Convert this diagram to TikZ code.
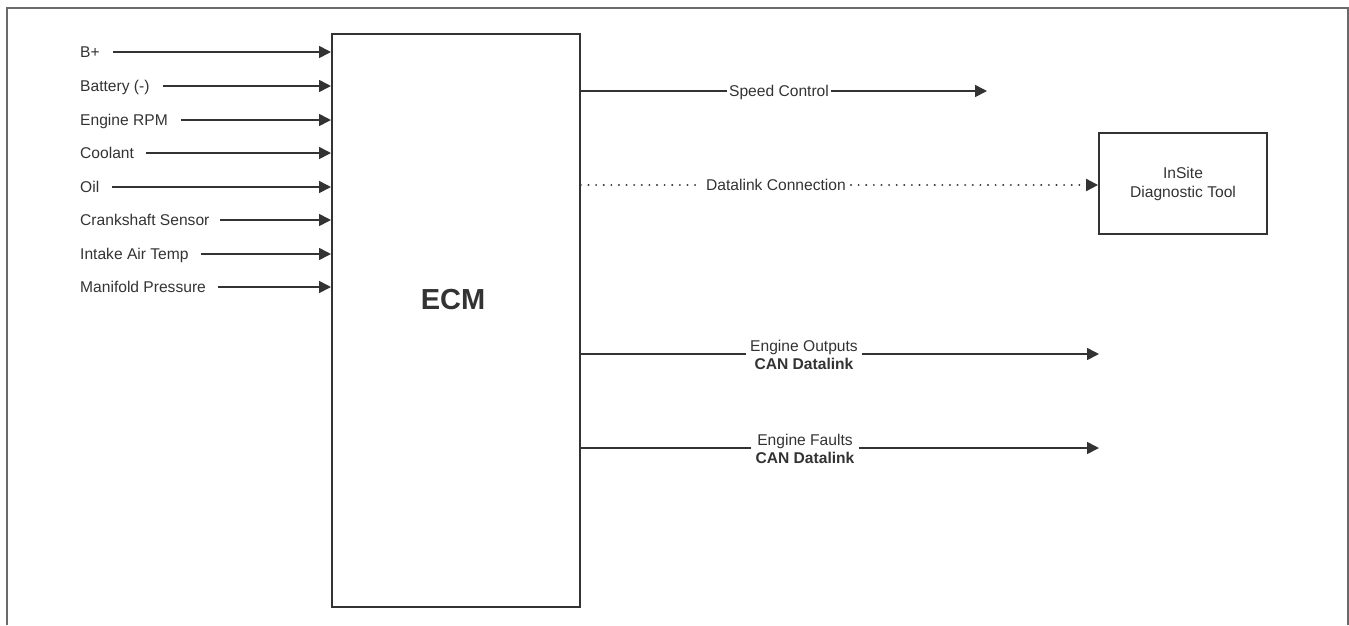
\documentclass[tikz,border=0pt]{standalone}
\usepackage{fontspec}
\setmainfont{Liberation Sans}
\usepackage{tikz}
\usetikzlibrary{arrows.meta}

\definecolor{ink}{HTML}{333333}
\definecolor{framegray}{HTML}{6A6A6A}

\begin{document}
\begin{tikzpicture}[x=1pt, y=-1pt,
    lbl/.style={font=\fontsize{15.6}{19}\selectfont, text=ink, inner sep=0pt,
                text height=11pt, text depth=0pt, anchor=west},
    twolbl/.style={font=\fontsize{15.6}{18.5}\selectfont, text=ink, inner ysep=0pt,
                   inner xsep=4pt, align=center},
    box/.style={draw=ink, line width=1.9pt, inner sep=0pt},
    wire/.style={draw=ink, line width=1.6pt},
    sig/.style={wire, -{Triangle[length=12pt,width=12pt]}},
    dotwire/.style={sig, line width=2.2pt, line cap=round, dash pattern=on 0.01pt off 7.6pt}
  ]
    \useasboundingbox (0,0) rectangle (1349,625);

    % outer frame, open at the bottom
    \draw[framegray, line width=1.5pt] (7,625) -- (7,8) -- (1348,8) -- (1348,625);

    % ECM box
    \node[box, anchor=north west, minimum width=248pt, minimum height=573pt] (ecm) at (331,33) {};
    \node[font=\fontsize{29}{32}\selectfont\bfseries, text=ink] (ecmtxt) at (453,300) {ECM};

    % inputs
    \node[lbl] (bplus) at (80,52) {B+};
    \node[lbl] (batt) at (80,86) {Battery (-)};
    \node[lbl] (rpm) at (80,120) {Engine RPM};
    \node[lbl] (cool) at (80,153) {Coolant};
    \node[lbl] (oil) at (80,187) {Oil};
    \node[lbl] (crank) at (80,220) {Crankshaft Sensor};
    \node[lbl] (iat) at (80,254) {Intake Air Temp};
    \node[lbl] (manp) at (80,287) {Manifold Pressure};

    \draw[sig] ([xshift=13pt]bplus.east) -- (bplus -| ecm.west);
    \draw[sig] ([xshift=13pt]batt.east) -- (batt -| ecm.west);
    \draw[sig] ([xshift=13pt]rpm.east) -- (rpm -| ecm.west);
    \draw[sig] ([xshift=12pt]cool.east) -- (cool -| ecm.west);
    \draw[sig] ([xshift=13pt]oil.east) -- (oil -| ecm.west);
    \draw[sig] ([xshift=10pt]crank.east) -- (crank -| ecm.west);
    \draw[sig] ([xshift=12pt]iat.east) -- (iat -| ecm.west);
    \draw[sig] ([xshift=12pt]manp.east) -- (manp -| ecm.west);

    % diagnostic tool
    \node[box, minimum width=168pt, minimum height=101pt, align=center,
          font=\fontsize{15.6}{19}\selectfont, text=ink] (insite) at (1183,183.5)
          {InSite\\Diagnostic Tool};

    % outputs
    \node[lbl, anchor=center, inner xsep=2pt] (spd) at (779,91) {Speed Control};
    \coordinate (spdend) at (987,91);
    \draw[wire] (spd -| ecm.east) -- (spd.west);
    \draw[sig] (spd.east) -- (spdend);

    \node[lbl, anchor=center, inner xsep=5pt] (dlink) at (776,185) {Datalink Connection};
    \draw[dotwire, -] (dlink -| ecm.east) -- (dlink.west);
    \draw[dotwire] (dlink.east) -- (dlink -| insite.west);

    \node[twolbl] (eout) at (804,355) {Engine Outputs\\\textbf{CAN Datalink}};
    \coordinate (eoutend) at (1099,354);
    \draw[wire] (eoutend -| ecm.east) -- (eoutend -| eout.west);
    \draw[sig] (eoutend -| eout.east) -- (eoutend);

    \node[twolbl] (efault) at (805,449) {Engine Faults\\\textbf{CAN Datalink}};
    \coordinate (efaultend) at (1099,448);
    \draw[wire] (efaultend -| ecm.east) -- (efaultend -| efault.west);
    \draw[sig] (efaultend -| efault.east) -- (efaultend);

\end{tikzpicture}
\end{document}
